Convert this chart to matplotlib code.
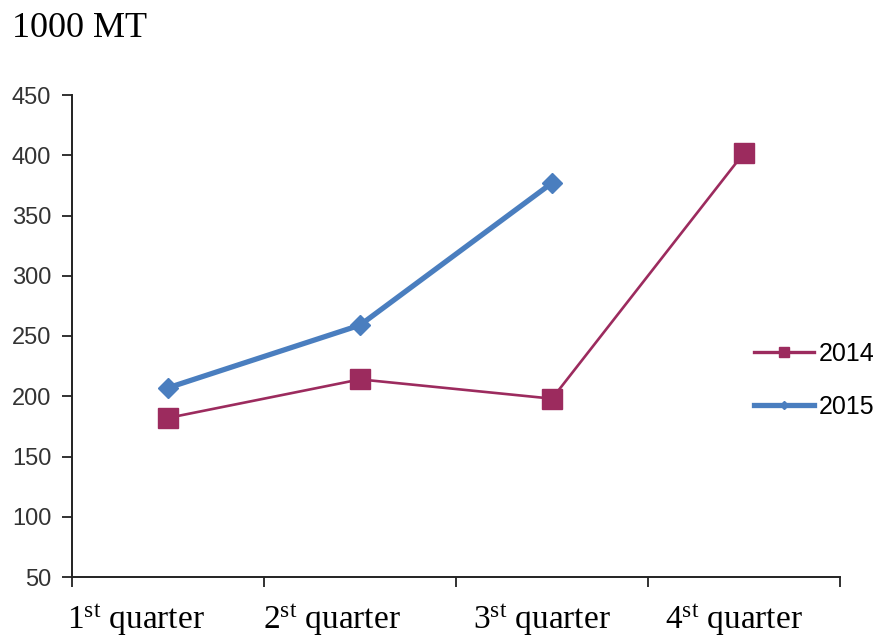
import matplotlib
matplotlib.use("Agg")
import matplotlib.pyplot as plt
from matplotlib.lines import Line2D
from matplotlib.transforms import ScaledTranslation

# Quarterly volumes, thousand metric tons
quarters = ["1", "2", "3", "4"]
vals_2014 = [182, 214, 198, 402]
vals_2015 = [207, 259, 377]
y_ticks = [50, 100, 150, 200, 250, 300, 350, 400, 450]

c2014 = "#9C2B5E"
c2015 = "#4A7EBF"

plt.rcParams["mathtext.fontset"] = "custom"
plt.rcParams["mathtext.rm"] = "Liberation Serif"
plt.rcParams["mathtext.it"] = "Liberation Serif:italic"

fig = plt.figure(figsize=(8.84, 6.37), dpi=100)
ax = fig.add_axes([72/884, 1-577/637, (840-72)/884, (577-95)/637])

x14 = list(range(len(vals_2014)))
x15 = list(range(len(vals_2015)))
ax.plot(x14, vals_2014, color=c2014, lw=1.9, marker="s", ms=15,
        mfc=c2014, mec=c2014, zorder=3)
ax.plot(x15, vals_2015, color=c2015, lw=3.8, marker="D", ms=10.5,
        mfc=c2015, mec=c2015, zorder=4)

ax.set_xlim(-0.5, len(quarters) - 0.5)
ax.set_ylim(min(y_ticks), max(y_ticks))
ax.set_yticks(y_ticks)
ax.set_yticklabels([str(v) for v in y_ticks], fontsize=17,
                   family="Liberation Sans", color="#333333")

# category boundaries get tick marks, centres carry the labels
ax.set_xticks([i - 0.5 for i in range(len(quarters) + 1)])
ax.set_xticklabels([])
ax.set_xticks(range(len(quarters)), minor=True)
ax.set_xticklabels([q + r"$^{\mathrm{st}}$ quarter" for q in quarters],
                   minor=True, fontsize=24, family="Liberation Serif")
ax.tick_params(axis="x", which="major", length=7, width=1.3,
               direction="out", color="#222222")
ax.tick_params(axis="x", which="minor", length=0, pad=18)
ax.tick_params(axis="y", length=7, width=1.3, direction="out",
               color="#222222", pad=8)

# nudge the category labels slightly leftwards
shifts_px = [-32, -28, -10, -10]
for lab, dx in zip(ax.get_xticklabels(minor=True), shifts_px):
    lab.set_transform(lab.get_transform()
                      + ScaledTranslation(dx / 100, 0, fig.dpi_scale_trans))

for s in ("top", "right"):
    ax.spines[s].set_visible(False)
for s in ("left", "bottom"):
    ax.spines[s].set_linewidth(1.4)
    ax.spines[s].set_color("#222222")

handles = [
    Line2D([], [], color=c2014, lw=2.4, marker="s", ms=7),
    Line2D([], [], color=c2015, lw=3.8, marker="D", ms=4),
]
fig.legend(handles, ["2014", "2015"], loc="upper left",
           bbox_to_anchor=(754/884, 1-342/637), frameon=False,
           prop={"family": "Liberation Sans", "size": 18},
           handlelength=2.4, handletextpad=0.2, labelspacing=1.15,
           borderpad=0, borderaxespad=0)

fig.text(12/884, 1-37/637, "1000 MT", family="Liberation Serif",
         fontsize=26, va="baseline", ha="left")

fig.savefig("out.png", dpi=100, facecolor="white")
